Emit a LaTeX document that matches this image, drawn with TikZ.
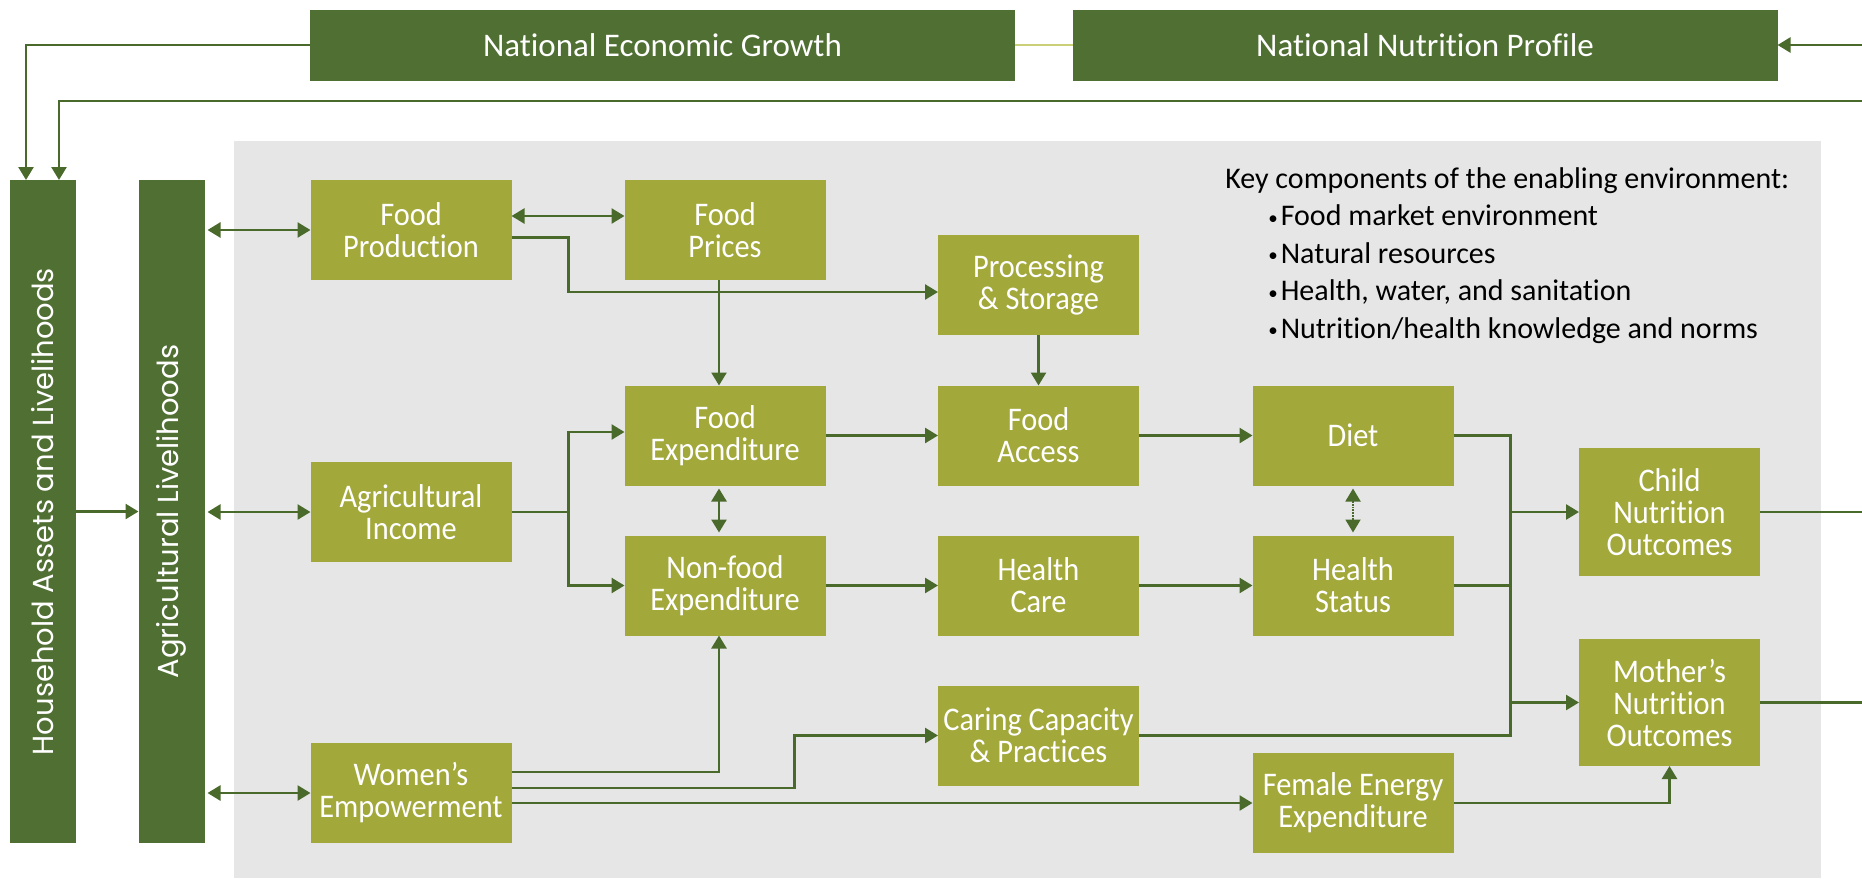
\documentclass[tikz,border=0pt]{standalone}
\usepackage{fontspec}
\usepackage{graphicx}
\setmainfont{Carlito}[Ligatures=CommonOff]
\newfontfamily\boxfont{Carlito}[Ligatures=CommonOff, FakeStretch=0.92]
\newfontfamily\barfont{Poppins}
\usetikzlibrary{arrows.meta}
\definecolor{darkgreen}{HTML}{506F33}
\definecolor{olive}{HTML}{A2A83A}
\definecolor{linegreen}{HTML}{4A6A2C}
\definecolor{bggray}{HTML}{E6E6E6}
\definecolor{paleline}{HTML}{C9D078}
\tikzset{
  box/.style={fill=olive, text=white, align=center, minimum width=201pt, minimum height=100pt,
    inner sep=0pt, outer sep=0pt, font=\boxfont\fontsize{33}{32}\selectfont},
  topbox/.style={fill=darkgreen, text=white, minimum width=705pt, minimum height=71pt,
    inner sep=0pt, outer sep=0pt, font=\fontsize{33}{32}\selectfont},
  bar/.style={fill=darkgreen, text=white, minimum width=66pt, minimum height=663pt,
    inner sep=0pt, outer sep=0pt, font=\barfont\fontsize{29}{29}\selectfont},
}
\newcommand\bul{\hspace*{43pt}\raisebox{1.5pt}{\fontsize{19}{19}\selectfont\textbullet}\hspace{3pt}}
\begin{document}
\begin{tikzpicture}[x=1pt, y=-1pt, >={Triangle[length=13pt,width=15pt]}, line width=2.6pt, color=linegreen]
\useasboundingbox (0,0) rectangle (1862,878);
\fill[bggray] (234,141) rectangle (1821,878);

\node[topbox] (neg) at (662.5,45) {National Economic Growth};
\node[topbox] (nnp) at (1425,45) {National Nutrition Profile};
\node[bar] (ha) at (42.75,511.5) {\rotatebox{90}{Household Assets and Livelihoods}};
\node[bar] (al) at (171.5,511.5) {\rotatebox{90}{Agricultural Livelihoods}};

\node[box] (fp) at (411,230) {Food\\Production};
\node[box] (fpr) at (725,230) {Food\\Prices};
\node[box] (proc) at (1038.5,285) {Processing\\\& Storage};
\node[box] (fexp) at (725,435.5) {Food\\Expenditure};
\node[box] (facc) at (1038.5,435.5) {Food\\Access};
\node[box] (diet) at (1353,435.5) {Diet};
\node[box] (agi) at (411,512) {Agricultural\\Income};
\node[box] (nfexp) at (725,585.5) {Non-food\\Expenditure};
\node[box] (hc) at (1038.5,585.5) {Health\\Care};
\node[box] (hs) at (1353,585.5) {Health\\Status};
\node[box] (care) at (1038.5,735.5) {Caring Capacity\\\& Practices};
\node[box] (we) at (411,793) {Women’s\\Empowerment};
\node[box] (fee) at (1353,803) {Female Energy\\Expenditure};
\node[box, minimum width=181pt, minimum height=128pt] (child) at (1669.5,512) {Child\\Nutrition\\Outcomes};
\node[box, minimum width=181pt, minimum height=127pt] (mom) at (1669.5,702.5) {Mother’s\\Nutrition\\Outcomes};

\node[anchor=north west, align=left, text=black, inner sep=0pt, font=\fontsize{30}{37.5}\selectfont] (key) at (1224,166)
  {Key components of the enabling environment:\\
   \bul Food market environment\\
   \bul Natural resources\\
   \bul Health, water, and sanitation\\
   \bul Nutrition/health knowledge and norms};

\coordinate (rt) at (1862,101);
\coordinate (rin) at (1862,45);
\coordinate (bus) at ([xshift=57pt]diet.east);

\draw[->] (neg.west) -| ([xshift=-16.75pt]ha.north);
\draw[->] (rt) -| ([xshift=16.25pt]ha.north);
\draw[->] (rin) -- (nnp.east);
\draw[paleline, line width=1.6pt] (neg.east) -- (nnp.west);
\draw[->] (ha.east) -- (al.west);
\foreach \n in {fp,agi,we}
{
    \draw[<->] ([xshift=3pt]al.east |- \n.west) -- (\n.west);
}
\draw[<->] ([yshift=14pt]fp.east) -- ([yshift=14pt]fpr.west);
\draw[->] ([yshift=-7.5pt]fp.east) -- ++(57,0) |- ([yshift=-7pt]proc.west);
\draw[->] ([xshift=-6pt]fpr.south) -- ([xshift=-6pt]fexp.north);
\draw[->] (proc) -- (facc);
\draw[->] (agi.east) -- ++(57,0) |- ([yshift=3.5pt]fexp.west);
\draw[->] (agi.east) ++(57,0) |- (nfexp.west);
\draw[<->, shorten <=3pt, shorten >=3pt] ([xshift=-6pt]fexp.south) -- ([xshift=-6pt]nfexp.north);
\draw[->] (fexp) -- (facc);
\draw[->] (facc) -- (diet);
\draw[->] (nfexp) -- (hc);
\draw[->] (hc) -- (hs);
\draw[<->, densely dotted, line width=1.8pt, shorten <=3pt, shorten >=3pt] (diet) -- (hs);
\draw (diet.east) -- (bus) -- (bus |- care.east) -- (care.east);
\draw (hs.east) -- (bus |- hs.east);
\draw[->] (bus |- child.west) -- (child.west);
\draw[->] (bus |- mom.west) -- (mom.west);
\draw (child.east) -- (child.east -| rt);
\draw (mom.east) -- (mom.east -| rt);
\draw[->] (fee.east) -| (mom.south);
\draw[->] ([yshift=21pt]we.east) -| ([xshift=-6pt]nfexp.south);
\draw[->] ([yshift=5pt]we.east) -- ++(283,0) |- (care.west);
\draw[->] (we.east |- fee.west) -- (fee.west);
\end{tikzpicture}
\end{document}
